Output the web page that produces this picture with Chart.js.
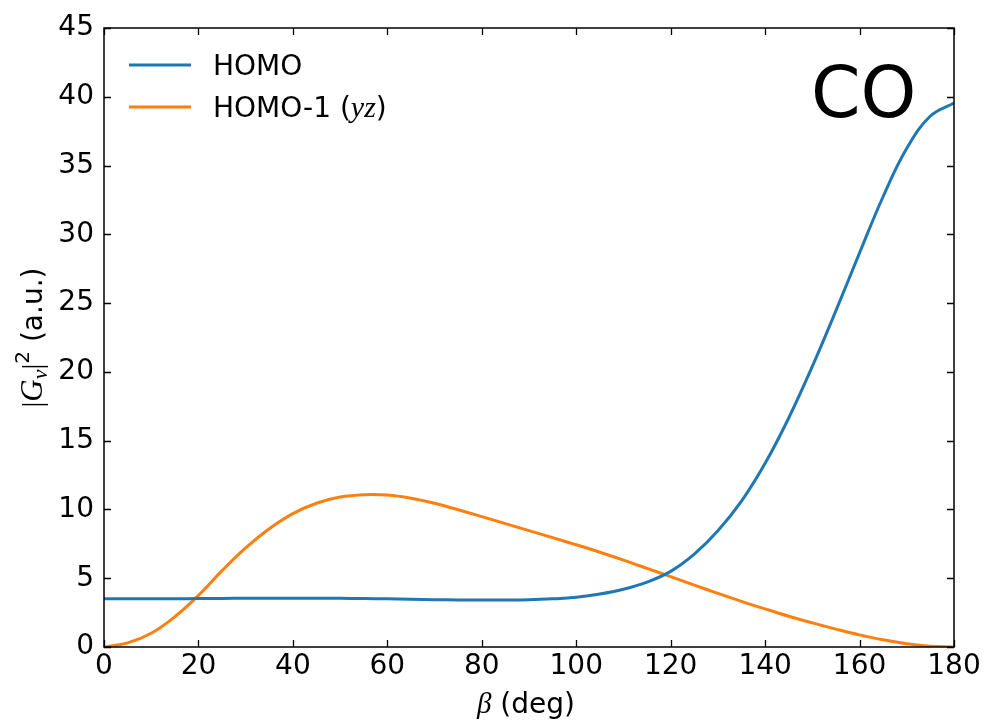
<!DOCTYPE html>
<html><head><meta charset="utf-8">
<script src="https://cdn.jsdelivr.net/npm/chart.js@4/dist/chart.umd.min.js"></script>
<style>html,body{margin:0;padding:0;background:#fff;}canvas{display:block;}</style>
</head><body>
<canvas id="c" width="987" height="723"></canvas>
<script>
// ---- data ----
const betaDeg = [0,5,10,15,20,25,30,35,40,45,50,55,60,65,70,75,80,85,90,95,100,105,110,115,120,125,130,135,140,145,150,155,160,165,170,175,180];
const homo = [3.50,3.50,3.50,3.51,3.52,3.53,3.54,3.55,3.55,3.55,3.54,3.52,3.50,3.47,3.44,3.42,3.41,3.41,3.43,3.50,3.62,3.85,4.20,4.72,5.50,6.75,8.45,10.60,13.35,16.65,20.40,24.45,28.65,32.75,36.25,38.60,39.55];
const homo1 = [0,0.30,1.00,2.20,3.75,5.55,7.20,8.60,9.70,10.45,10.90,11.07,11.05,10.82,10.45,9.98,9.48,8.97,8.46,7.95,7.43,6.89,6.32,5.72,5.11,4.50,3.90,3.32,2.77,2.24,1.75,1.30,0.88,0.52,0.24,0.06,0];
const xTickValues = [0,20,40,60,80,100,120,140,160,180];
const yTickValues = [0,5,10,15,20,25,30,35,40,45];
const seriesNames = ['HOMO','HOMO-1'];
const seriesNameSuffix = ['', 'yz'];
const moleculeLabel = 'CO';

const BLUE = '#1f77b4', ORANGE = '#ff7f0e';
const SANS = '"DejaVu Sans", sans-serif';
const SERIF = '"Liberation Serif", "DejaVu Serif", serif';

const toXY = arr => betaDeg.map((b, i) => ({x: b, y: arr[i]}));

const framePlugin = {
  id: 'frame',
  afterDatasetsDraw(chart) {
    const ctx = chart.ctx, a = chart.chartArea;
    const xs = chart.scales.x, ys = chart.scales.y;
    ctx.save();
    ctx.strokeStyle = '#000';
    ctx.lineWidth = 1.5;
    ctx.strokeRect(a.left, a.top, a.right - a.left, a.bottom - a.top);
    const tl = 7;
    ctx.beginPath();
    xTickValues.forEach(v => {
      const px = Math.round(xs.getPixelForValue(v)) + 0.5;
      ctx.moveTo(px, a.bottom); ctx.lineTo(px, a.bottom - tl);
      ctx.moveTo(px, a.top); ctx.lineTo(px, a.top + tl);
    });
    yTickValues.forEach(v => {
      const py = Math.round(ys.getPixelForValue(v)) + 0.5;
      ctx.moveTo(a.left, py); ctx.lineTo(a.left + tl, py);
      ctx.moveTo(a.right, py); ctx.lineTo(a.right - tl, py);
    });
    ctx.lineWidth = 1.3;
    ctx.stroke();
    ctx.restore();
  },
  afterDraw(chart) {
    const ctx = chart.ctx, a = chart.chartArea;
    ctx.save();
    ctx.fillStyle = '#000';
    ctx.textBaseline = 'alphabetic';
    // x title
    const parts = [
      {t: 'β', f: 'italic 29px ' + SERIF, dy: 0},
      {t: ' (deg)', f: '28px ' + SANS, dy: 0}
    ];
    drawParts(ctx, parts, (a.left + a.right) / 2 - 3, 713);
    // y title rotated
    ctx.save();
    ctx.translate(42, (a.top + a.bottom) / 2);
    ctx.rotate(-Math.PI / 2);
    const yparts = [
      {t: '|', f: '29px ' + SERIF, dy: 0},
      {t: 'G', f: 'italic 31px ' + SERIF, dy: 0},
      {t: 'ν', f: 'italic 22px ' + SERIF, dy: 5},
      {t: '|', f: '29px ' + SERIF, dy: 0},
      {t: '2', f: '20px ' + SANS, dy: -13},
      {t: ' (a.u.)', f: '28px ' + SANS, dy: 0}
    ];
    drawParts(ctx, yparts, 0, 0);
    ctx.restore();
    // legend
    const ds = chart.data.datasets;
    const rows = [65, 107];
    ds.forEach((d, i) => {
      const y = rows[i];
      ctx.strokeStyle = d.borderColor;
      ctx.lineWidth = 3;
      ctx.beginPath(); ctx.moveTo(129, y); ctx.lineTo(191, y); ctx.stroke();
      const lp = [{t: seriesNames[i], f: '28px ' + SANS, dy: 0}];
      if (seriesNameSuffix[i]) {
        lp.push({t: ' (', f: '28px ' + SANS, dy: 0});
        lp.push({t: seriesNameSuffix[i], f: 'italic 30px ' + SERIF, dy: 0});
        lp.push({t: ')', f: '28px ' + SANS, dy: 0});
      }
      drawParts(ctx, lp, null, y + 10, 213);
    });
    // molecule label
    ctx.font = '71px ' + SANS;
    ctx.textAlign = 'left';
    ctx.fillText(moleculeLabel, 811, 117);
    ctx.restore();
  }
};

function drawParts(ctx, parts, cx, baseline, leftX) {
  ctx.textAlign = 'left';
  let w = 0;
  parts.forEach(p => { ctx.font = p.f; p.w = ctx.measureText(p.t).width; w += p.w; });
  let x = (leftX !== undefined && leftX !== null) ? leftX : cx - w / 2;
  parts.forEach(p => { ctx.font = p.f; ctx.fillText(p.t, x, baseline + p.dy); x += p.w; });
}

new Chart(document.getElementById('c'), {
  type: 'line',
  data: {
    datasets: [
      {label: seriesNames[0], data: toXY(homo), borderColor: BLUE, borderWidth: 3, pointRadius: 0, tension: 0.4, fill: false},
      {label: seriesNames[1], data: toXY(homo1), borderColor: ORANGE, borderWidth: 3, pointRadius: 0, tension: 0.4, fill: false}
    ]
  },
  options: {
    responsive: false,
    animation: false,
    layout: {padding: {left: 0, top: 28, right: 33, bottom: 0}},
    plugins: {legend: {display: false}, tooltip: {enabled: false}, title: {display: false}},
    scales: {
      x: {
        type: 'linear', min: 0, max: 180,
        afterBuildTicks: s => { s.ticks = xTickValues.map(v => ({value: v})); },
        afterFit: s => { s.height = 76; },
        grid: {display: false, drawTicks: false},
        border: {display: false},
        ticks: {color: '#000', font: {family: 'DejaVu Sans', size: 28}, padding: 3, maxRotation: 0, autoSkip: false}
      },
      y: {
        type: 'linear', min: 0, max: 45,
        afterBuildTicks: s => { s.ticks = yTickValues.map(v => ({value: v})); },
        afterFit: s => { s.width = 104; },
        grid: {display: false, drawTicks: false},
        border: {display: false},
        ticks: {color: '#000', font: {family: 'DejaVu Sans', size: 28}, padding: 10, autoSkip: false}
      }
    }
  },
  plugins: [framePlugin]
});
</script>
</body></html>
